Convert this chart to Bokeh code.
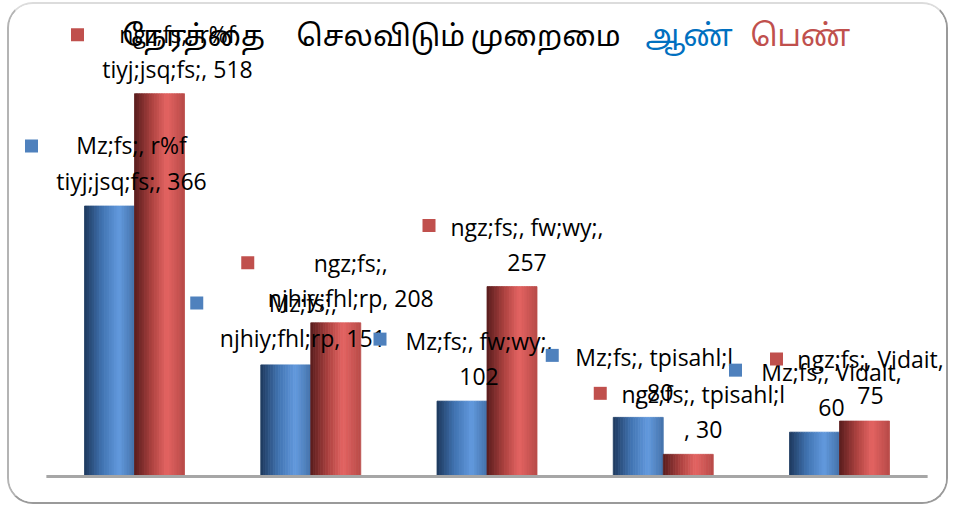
import numpy as np
from bokeh.plotting import figure
from bokeh.models import Label, Range1d
from bokeh.core.properties import value
from bokeh.embed import file_html
from bokeh.resources import INLINE

# ---------------- data ----------------
categories = ["r%f tiyj;jsq;fs;", "njhiy;fhl;rp", "fw;wy;", "tpisahl;l", "Vidait"]
series_names = ["Mz;fs;", "ngz;fs;"]
male = [366, 151, 102, 80, 60]
female = [518, 208, 257, 30, 75]
title_words = ["நேரத்தை", "செலவிடும்", "முறைமை"]
title_series = ["ஆண்", "பெண்"]

# ---------------- layout (page pixels) ----------------
OX, OY = 7, 2            # outer border position on page
BW = 2                   # border width
W, H = 941, 502          # inner size
LEFT, TOP = OX + BW, OY + BW
pxx = 176.25             # px per category
pxy = 0.739              # px per unit value
x0 = -(134 - LEFT) / pxx
x1 = x0 + W / pxx
y1 = (476 - TOP) / pxy
y0 = y1 - H / pxy


def X(px):
    return x0 + (px - LEFT) / pxx


def Y(py):
    return y1 - (py - TOP) / pxy


BLUE_STOPS = [(0.0, (30, 56, 92)), (0.35, (64, 114, 176)), (0.7, (98, 154, 222)), (1.0, (68, 114, 170))]
RED_STOPS = [(0.0, (88, 28, 28)), (0.35, (172, 66, 64)), (0.65, (228, 100, 98)), (1.0, (184, 74, 72))]
FONT = "Open Sans"
TFONT = "'Noto Sans Tamil', 'Noto Sans', sans-serif"


def grad(stops, t):
    for (ta, ca), (tb, cb) in zip(stops[:-1], stops[1:]):
        if ta <= t <= tb:
            f = (t - ta) / (tb - ta)
            c = [int(round(a + (b - a) * f)) for a, b in zip(ca, cb)]
            return "#%02x%02x%02x" % tuple(c)
    return "#%02x%02x%02x" % stops[-1][1]


p = figure(width=W, height=H, output_backend="svg", toolbar_location=None,
           x_range=Range1d(x0, x1), y_range=Range1d(y0, y1), min_border=0)
p.axis.visible = False
p.grid.visible = False
p.outline_line_color = None
p.background_fill_color = "white"
p.border_fill_color = "white"
p.styles = {"border": f"{BW}px solid #9a9a9a", "border-radius": "26px", "overflow": "hidden",
            "border-top-color": "#dcdcdc", "border-left-color": "#b4b4b4",
            "margin-left": f"{OX}px", "margin-top": f"{OY}px"}

xs = np.arange(len(categories))
bar_w = 50 / pxx
NS = 20
for vals, off, stops in [(male, -bar_w / 2, BLUE_STOPS), (female, bar_w / 2, RED_STOPS)]:
    for k in range(NS):
        t = (k + 0.5) / NS
        sx = xs + off + (t - 0.5) * bar_w
        col = grad(stops, t)
        p.vbar(x=sx, top=vals, width=bar_w / NS, bottom=0,
               fill_color=col, line_color=col, line_width=0.8)

# baseline (category axis line)
p.segment(x0=[-0.5], y0=[0], x1=[len(categories) - 0.5], y1=[0],
          line_color="#a6a6a6", line_width=3)

# ---------------- data labels ----------------
def wrap(text, n):
    return text[:n].rstrip() + "\n" + text[n:].lstrip()

label_rows = []
for si, (vals, off, col) in enumerate([(male, -bar_w / 2, "#4F81BD"), (female, bar_w / 2, "#C0504D")]):
    for ci, c in enumerate(categories):
        full = f"{series_names[si]}, {c}, {vals[ci]}"
        label_rows.append((full, xs[ci] + off, vals[ci], col))

# line-1 length (characters) per label: male then female
wrap_n = [11, 7, 15, 17, 15, 12, 8, 16, 18, 16]
# square offsets in px from bar-top centre (dx right, dy up)
sq_dx = [-78, -89, -82, -86, -79, -82, -88, -83, -88, -88]
sq_dy = [60, 62, 62, 62, 62, 59, 60, 61, 61, 62]
txt_dx = [22, 17, 17, 16, 17, 18, 15, 15, 15, 6]
txt_dy = [43, 44, 43, 43, 43, 42, 42, 42, 43, 44]

for i, (full, bx, by, col) in enumerate(label_rows):
    t = wrap(full, wrap_n[i])
    p.text(x=[bx], y=[by], text=[t], x_offset=[txt_dx[i]], y_offset=[-txt_dy[i]],
           text_align="center", text_baseline="middle", text_font=value(FONT),
           text_font_size="23px", text_color="#000000", text_line_height=1.1)
    p.rect(x=[bx + sq_dx[i] / pxx], y=[by + sq_dy[i] / pxy], width=13, height=13,
           width_units="screen", height_units="screen", fill_color=col, line_color=None)

# ---------------- title ----------------
for w, px in zip(title_words, [122, 296, 470]):
    p.add_layout(Label(x=X(px), y=Y(38), text=w, text_font=TFONT, text_font_size="29px",
                       text_color="#000000", text_baseline="middle"))
for w, px, c in zip(title_series, [645, 750], ["#0070C0", "#C0504D"]):
    p.add_layout(Label(x=X(px), y=Y(38), text=w, text_font=TFONT, text_font_size="30px",
                       text_color=c, text_baseline="middle"))

open("out.html", "w").write(file_html(p, INLINE))
